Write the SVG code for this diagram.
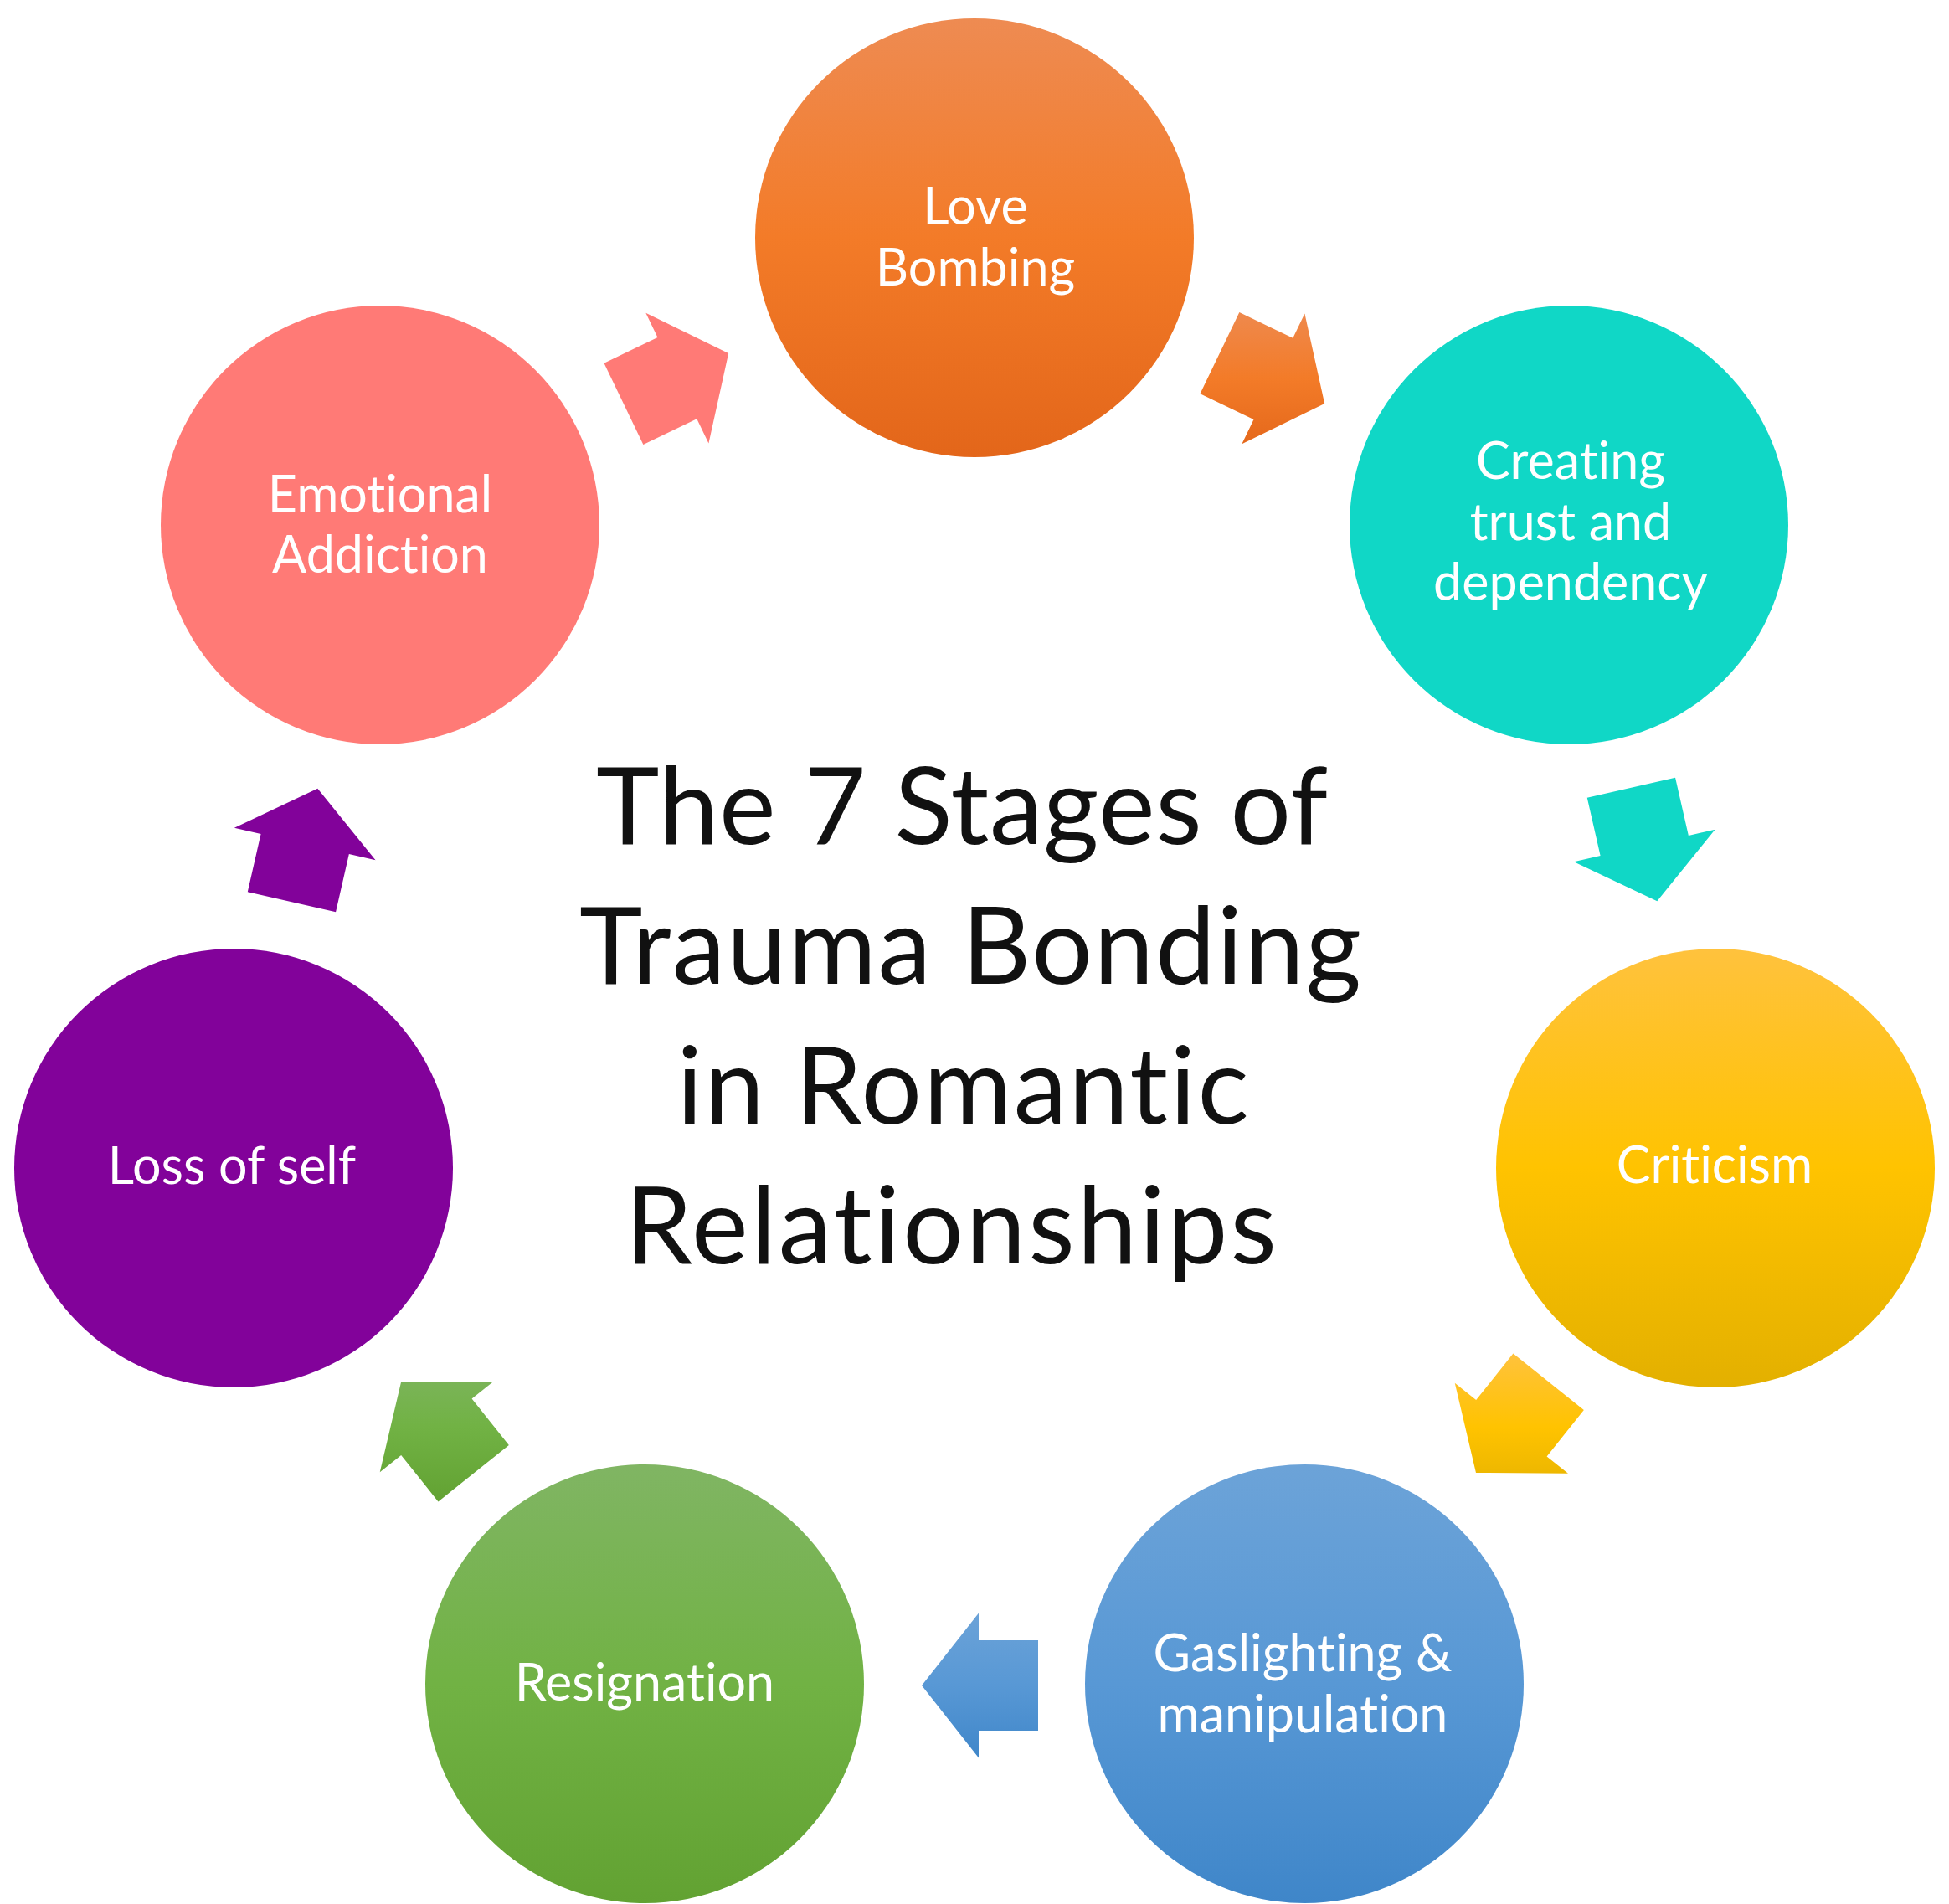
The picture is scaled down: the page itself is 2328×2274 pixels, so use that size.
<svg xmlns="http://www.w3.org/2000/svg" width="2328" height="2274" viewBox="0 0 2328 2274">
<style>
.lbl{font-family:Lato,"Open Sans","Liberation Sans",sans-serif;font-size:61px;fill:#ffffff;text-anchor:middle;font-variant-ligatures:none;font-feature-settings:"liga" 0,"clig" 0}
.ttl{font-family:Lato,"Open Sans","Liberation Sans",sans-serif;font-size:128px;fill:#111111;text-anchor:middle;font-variant-ligatures:none;font-feature-settings:"liga" 0,"clig" 0}
</style>
<defs>
<linearGradient id="gOrange" x1="0" y1="0" x2="0" y2="1"><stop offset="0" stop-color="#EE8B52"/><stop offset="0.5" stop-color="#F37B28"/><stop offset="1" stop-color="#E3661A"/></linearGradient>
<linearGradient id="gYellow" x1="0" y1="0" x2="0" y2="1"><stop offset="0" stop-color="#FFC23D"/><stop offset="0.5" stop-color="#FFC300"/><stop offset="1" stop-color="#E3B000"/></linearGradient>
<linearGradient id="gBlue" x1="0" y1="0" x2="0" y2="1"><stop offset="0" stop-color="#6CA3D8"/><stop offset="0.5" stop-color="#5898D5"/><stop offset="1" stop-color="#3F86C9"/></linearGradient>
<linearGradient id="gGreen" x1="0" y1="0" x2="0" y2="1"><stop offset="0" stop-color="#80B563"/><stop offset="0.5" stop-color="#71B244"/><stop offset="1" stop-color="#62A232"/></linearGradient>
<linearGradient id="aOrange" gradientUnits="userSpaceOnUse" x1="-39" y1="-81" x2="39" y2="81"><stop offset="0" stop-color="#EE8B52"/><stop offset="0.5" stop-color="#F37B28"/><stop offset="1" stop-color="#E3661A"/></linearGradient>
<linearGradient id="aYellow" gradientUnits="userSpaceOnUse" x1="-70" y1="56" x2="70" y2="-56"><stop offset="0" stop-color="#FFC23D"/><stop offset="0.5" stop-color="#FFC300"/><stop offset="1" stop-color="#E3B000"/></linearGradient>
<linearGradient id="aBlue" gradientUnits="userSpaceOnUse" x1="0" y1="90" x2="0" y2="-90"><stop offset="0" stop-color="#6CA3D8"/><stop offset="0.5" stop-color="#5898D5"/><stop offset="1" stop-color="#3F86C9"/></linearGradient>
<linearGradient id="aGreen" gradientUnits="userSpaceOnUse" x1="70" y1="56" x2="-70" y2="-56"><stop offset="0" stop-color="#80B563"/><stop offset="0.5" stop-color="#71B244"/><stop offset="1" stop-color="#62A232"/></linearGradient>
</defs>
<rect width="2328" height="2274" fill="#ffffff"/>

<g id="connectors">
<polygon points="-70,-54 1,-54 1,-86.5 69,0 1,86.5 1,54 -70,54" fill="url(#aOrange)" transform="translate(1520,452) rotate(25.71)"/>
<polygon points="-70,-54 1,-54 1,-86.5 69,0 1,86.5 1,54 -70,54" fill="#10D7C6" transform="translate(1964,1009) rotate(77.14)"/>
<polygon points="-70,-54 1,-54 1,-86.5 69,0 1,86.5 1,54 -70,54" fill="url(#aYellow)" transform="translate(1806,1705) rotate(128.57)"/>
<polygon points="-70,-54 1,-54 1,-86.5 69,0 1,86.5 1,54 -70,54" fill="url(#aBlue)" transform="translate(1170,2013) rotate(180)"/>
<polygon points="-70,-54 1,-54 1,-86.5 69,0 1,86.5 1,54 -70,54" fill="url(#aGreen)" transform="translate(522,1705) rotate(231.43)"/>
<polygon points="-70,-54 1,-54 1,-86.5 69,0 1,86.5 1,54 -70,54" fill="#82029A" transform="translate(364,1009) rotate(282.86)"/>
<polygon points="-70,-54 1,-54 1,-86.5 69,0 1,86.5 1,54 -70,54" fill="#FF7A76" transform="translate(808,452) rotate(334.29)"/>
</g>

<g id="love-bombing">
<circle cx="1164" cy="284" r="262" fill="url(#gOrange)"/>
<text class="lbl" x="1165" y="268">Love</text>
<text class="lbl" x="1165" y="341">Bombing</text>
</g>
<g id="creating-trust">
<circle cx="1874" cy="627" r="262" fill="#10D7C6"/>
<text class="lbl" x="1876" y="572">Creating</text>
<text class="lbl" x="1876" y="645">trust and</text>
<text class="lbl" x="1876" y="717">dependency</text>
</g>
<g id="criticism">
<circle cx="2049" cy="1395" r="262" fill="url(#gYellow)"/>
<text class="lbl" x="2048" y="1413">Criticism</text>
</g>
<g id="gaslighting">
<circle cx="1558" cy="2011" r="262" fill="url(#gBlue)"/>
<text class="lbl" x="1556" y="1996">Gaslighting &amp;</text>
<text class="lbl" x="1556" y="2069">manipulation</text>
</g>
<g id="resignation">
<circle cx="770" cy="2011" r="262" fill="url(#gGreen)"/>
<text class="lbl" x="770" y="2031">Resignation</text>
</g>
<g id="loss-of-self">
<circle cx="279" cy="1395" r="262" fill="#82029A"/>
<text class="lbl" x="277" y="1414">Loss of self</text>
</g>
<g id="emotional-addiction">
<circle cx="454" cy="627" r="262" fill="#FF7A76"/>
<text class="lbl" x="454" y="612">Emotional</text>
<text class="lbl" x="454" y="684">Addiction</text>
</g>

<g id="title">
<text class="ttl" x="1149" y="1008" textLength="874" lengthAdjust="spacing">The 7 Stages of</text>
<text class="ttl" x="1159" y="1175" textLength="934" lengthAdjust="spacing">Trauma Bonding</text>
<text class="ttl" x="1150" y="1342" textLength="683" lengthAdjust="spacing">in Romantic</text>
<text class="ttl" x="1136" y="1509" textLength="778" lengthAdjust="spacing">Relationships</text>
</g>
</svg>
